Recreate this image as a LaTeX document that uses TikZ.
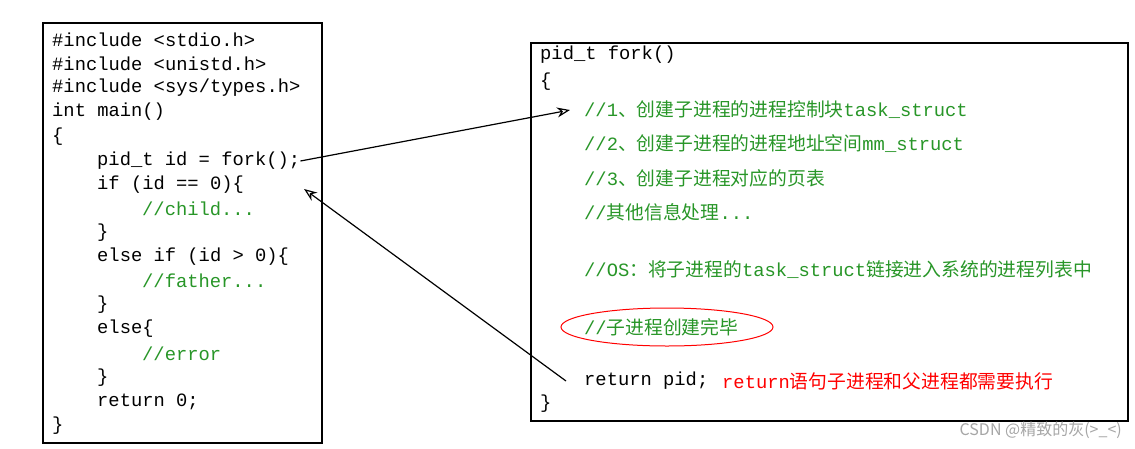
\documentclass[tikz,border=0pt]{standalone}
\usepackage{fontspec}
\setmonofont{Liberation Mono}
\newfontfamily\cjk{Noto Sans CJK SC}
\usetikzlibrary{arrows.meta}
\definecolor{cg}{RGB}{40,150,40}
\begin{document}
\begin{tikzpicture}[x=1pt,y=-1pt,
  code/.style={anchor=west,inner sep=0,font=\fontsize{18.8}{18.8}\ttfamily},
  box/.style={draw,line width=1.6pt},
  arr/.style={line width=1.2pt,-{Stealth[length=13pt,width=10pt,open]}}]
\useasboundingbox[fill=white] (0,0) rectangle (1135,448);
\node[box,minimum width=279,minimum height=420,anchor=north west] (L) at (42,22) {};
\node[box,minimum width=597,minimum height=378,anchor=north west] (R) at (530,42) {};
\foreach \x/\y/\t in {52/40/{\#include <stdio.h>},52/64/{\#include <unistd.h>},52/88/{\#include <sys/types.h>},52/112/{int main()},52/137/\{,97/233/\},97/305/\},97/329/{else\{},97/378/\},97/402/{return 0;},52/426/\}}
  \node[code] at (\x,\y) {\t};
\node[code] (f) at (97,161) {pid\_t id = fork();};
\node[code] (g) at (97,185) {if (id == 0)\{};
\node[code] at (97,257) {else if (id > 0)\{};
\foreach \y/\t in {209/{//child...},281/{//father...},354/{//error}}
  \node[code,text=cg] at (142,\y) {\t};
\node[code] at (540,55) {pid\_t fork()};
\node[code] at (540,82) {\{};
\node[code] at (540,404) {\}};
\node[code,text=cg] (r1) at (584,110) {//1{\cjk 、创建子进程的进程控制块}task\_struct};
\node[code,text=cg] at (584,144) {//2{\cjk 、创建子进程的进程地址空间}mm\_struct};
\node[code,text=cg] at (584,178) {//3{\cjk 、创建子进程对应的页表}};
\node[code,text=cg] at (584,212) {//{\cjk 其他信息处理}...};
\node[code,text=cg] at (584,270) {//OS{\cjk ：将子进程的}task\_struct{\cjk 链接进入系统的进程列表中}};
\node[code,text=cg] (done) at (584,327) {//{\cjk 子进程创建完毕}};
\draw[red,line width=1pt] (667,327) ellipse (106 and 19);
\node[code] (ret) at (584,381) {return pid;};
\node[code,text=red] at (722,381) {return{\cjk 语句子进程和父进程都需要执行}};
\draw[arr] (f.east) -- ([xshift=-14pt]r1.west);
\draw[arr] ([xshift=-18pt]ret.west) -- ([xshift=60pt,yshift=-4pt]g.east);
\node[anchor=east,inner sep=0,text=gray!70,font=\cjk\fontsize{16}{16}\selectfont] at (1122,430) {CSDN @精致的灰(>\_<)};
\end{tikzpicture}
\end{document}
